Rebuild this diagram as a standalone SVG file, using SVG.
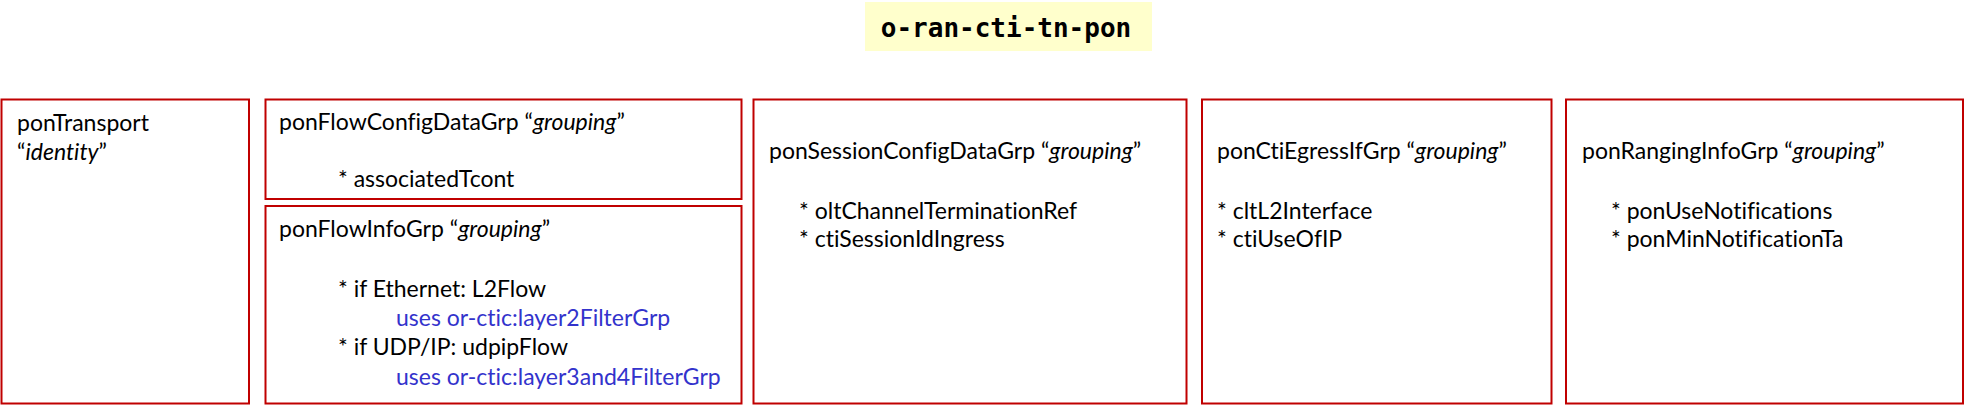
<svg xmlns="http://www.w3.org/2000/svg" width="1966" height="407" viewBox="0 0 1966 407">
<style>
.box{fill:#ffffff;stroke:#c00000;stroke-width:2}
.t{font-family:Lato,"Open Sans","Liberation Sans",sans-serif;font-size:23px;fill:#000000;font-variant-ligatures:none;font-feature-settings:"liga" 0}
.i{font-style:italic}
.b{fill:#3333cc}
.title{font-family:"DejaVu Sans Mono","Liberation Mono",monospace;font-weight:bold;font-size:26px;fill:#000000}
</style>
<rect width="1966" height="407" fill="#ffffff"/>
<g id="title">
<rect x="865" y="2" width="287" height="49" fill="#ffffcc"/>
<text class="title" x="1006" y="37" text-anchor="middle">o-ran-cti-tn-pon</text>
</g>
<g id="ponTransport">
<rect class="box" x="1.5" y="99.5" width="247.5" height="304"/>
<text class="t" x="17" y="131">ponTransport</text>
<text class="t" x="17" y="160">“<tspan class="i">identity</tspan>”</text>
</g>
<g id="ponFlowConfigDataGrp">
<rect class="box" x="265.5" y="99.5" width="476" height="99.5"/>
<text class="t" x="279" y="130">ponFlowConfigDataGrp “<tspan class="i">grouping</tspan>”</text>
<text class="t" x="338" y="187">* associatedTcont</text>
</g>
<g id="ponFlowInfoGrp">
<rect class="box" x="265.5" y="206" width="476" height="197.5"/>
<text class="t" x="279" y="237">ponFlowInfoGrp “<tspan class="i">grouping</tspan>”</text>
<text class="t" x="338" y="297">* if Ethernet: L2Flow</text>
<text class="t b" x="396" y="326">uses or-ctic:layer2FilterGrp</text>
<text class="t" x="338" y="355">* if UDP/IP: udpipFlow</text>
<text class="t b" x="396" y="385">uses or-ctic:layer3and4FilterGrp</text>
</g>
<g id="ponSessionConfigDataGrp">
<rect class="box" x="753.5" y="99.5" width="433" height="304"/>
<text class="t" x="769" y="159">ponSessionConfigDataGrp “<tspan class="i">grouping</tspan>”</text>
<text class="t" x="799" y="219">* oltChannelTerminationRef</text>
<text class="t" x="799" y="247">* ctiSessionIdIngress</text>
</g>
<g id="ponCtiEgressIfGrp">
<rect class="box" x="1202" y="99.5" width="349.5" height="304"/>
<text class="t" x="1217" y="159">ponCtiEgressIfGrp “<tspan class="i">grouping</tspan>”</text>
<text class="t" x="1217" y="219">* cltL2Interface</text>
<text class="t" x="1217" y="247">* ctiUseOfIP</text>
</g>
<g id="ponRangingInfoGrp">
<rect class="box" x="1566" y="99.5" width="397" height="304"/>
<text class="t" x="1582" y="159">ponRangingInfoGrp “<tspan class="i">grouping</tspan>”</text>
<text class="t" x="1611" y="219">* ponUseNotifications</text>
<text class="t" x="1611" y="247">* ponMinNotificationTa</text>
</g>
<g id="connectors"/>
</svg>
